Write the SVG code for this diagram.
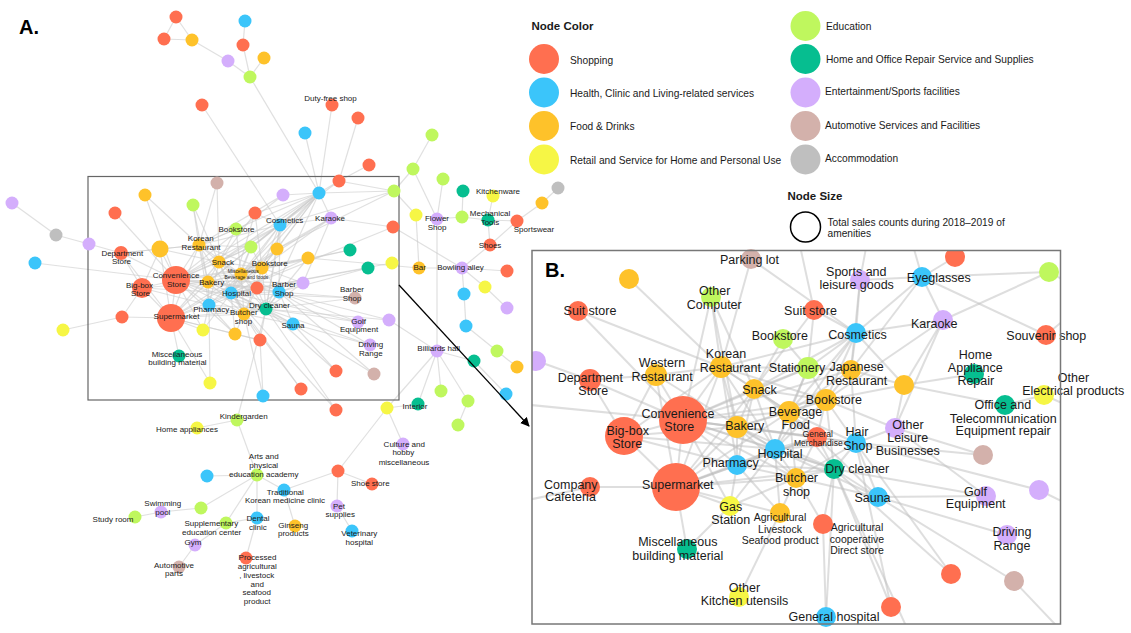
<svg xmlns="http://www.w3.org/2000/svg" width="1131" height="633" viewBox="0 0 1131 633">
<style>
.s{fill:#FF6F50}.h{fill:#3BC5FA}.f{fill:#FEC22A}.r{fill:#F6F645}.ed{fill:#BFF75E}.ho{fill:#06BE90}.en{fill:#D4AEFC}.au{fill:#D3B1AB}.ac{fill:#BFBFBF}
text{font-family:"Liberation Sans",Arial,sans-serif;fill:#1a1a1a}
.la{font-size:8px;text-anchor:middle}
.lx{font-size:4.9px;text-anchor:middle}
.lb{font-size:12.5px;text-anchor:middle}
.lm{font-size:10.5px;text-anchor:middle}
.lg{font-size:10.2px}
.hd{font-size:11.5px;font-weight:bold}
.big{font-size:20px;font-weight:bold;fill:#000}
#ea line{stroke:#cccccc;stroke-opacity:0.6;stroke-width:1.2}
#eb line{stroke:#bdbdbd;stroke-opacity:0.5;stroke-width:2}
.box{fill:none;stroke:#666;stroke-width:1.2}
</style>
<defs>
<marker id="arr" viewBox="0 0 10 10" refX="9" refY="5" markerWidth="7" markerHeight="7" orient="auto"><path d="M0,0L10,5L0,10z" fill="#000"/></marker>
<clipPath id="clipB"><rect x="532" y="250.5" width="528.5" height="373.5"/></clipPath>
</defs>
<rect width="1131" height="633" fill="#fff"/>
<text class="big" x="19" y="34">A.</text>

<g id="ea">
<line x1="176" y1="17" x2="164" y2="39"/><line x1="176" y1="17" x2="192" y2="40"/><line x1="164" y1="39" x2="192" y2="40"/><line x1="192" y1="40" x2="228" y2="61"/><line x1="228" y1="61" x2="250" y2="77"/><line x1="245" y1="21" x2="243" y2="45"/><line x1="243" y1="45" x2="250" y2="77"/><line x1="264" y1="58" x2="250" y2="77"/><line x1="250" y1="77" x2="319" y2="193"/><line x1="202" y1="105" x2="280" y2="225"/>
<line x1="332" y1="105" x2="319" y2="193"/><line x1="358" y1="118" x2="339" y2="181"/><line x1="305" y1="133" x2="319" y2="193"/><line x1="369" y1="165" x2="339" y2="181"/><line x1="339" y1="181" x2="319" y2="193"/><line x1="339" y1="181" x2="394" y2="191"/><line x1="339" y1="181" x2="280" y2="225"/>
<line x1="319" y1="193" x2="283" y2="195"/><line x1="319" y1="193" x2="394" y2="191"/><line x1="319" y1="193" x2="280" y2="225"/><line x1="319" y1="193" x2="331" y2="218"/><line x1="319" y1="193" x2="199" y2="245"/><line x1="319" y1="193" x2="219" y2="262"/><line x1="319" y1="193" x2="176" y2="280"/><line x1="319" y1="193" x2="251" y2="247"/><line x1="319" y1="193" x2="277" y2="249"/><line x1="319" y1="193" x2="262" y2="268"/><line x1="319" y1="193" x2="241" y2="274"/><line x1="319" y1="193" x2="208" y2="282"/><line x1="319" y1="193" x2="231" y2="293"/><line x1="319" y1="193" x2="266" y2="309"/><line x1="319" y1="193" x2="255" y2="213"/>
<line x1="283" y1="195" x2="199" y2="245"/><line x1="283" y1="195" x2="176" y2="280"/>
<line x1="432" y1="135" x2="413" y2="169"/><line x1="413" y1="169" x2="394" y2="191"/><line x1="413" y1="169" x2="437" y2="219"/><line x1="443" y1="179" x2="437" y2="219"/><line x1="394" y1="191" x2="416" y2="215"/><line x1="394" y1="191" x2="280" y2="225"/><line x1="394" y1="191" x2="277" y2="249"/>
<line x1="493" y1="196" x2="488" y2="220"/><line x1="463" y1="191" x2="462" y2="217"/><line x1="437" y1="219" x2="462" y2="217"/><line x1="462" y1="217" x2="488" y2="220"/><line x1="488" y1="220" x2="517" y2="221"/><line x1="517" y1="221" x2="542" y2="203"/><line x1="542" y1="203" x2="558" y2="188"/><line x1="488" y1="220" x2="490" y2="245"/><line x1="517" y1="221" x2="490" y2="245"/><line x1="490" y1="245" x2="462" y2="268"/>
<line x1="462" y1="268" x2="419" y2="268"/><line x1="462" y1="268" x2="507" y2="271"/><line x1="462" y1="268" x2="485" y2="287"/><line x1="485" y1="287" x2="507" y2="308"/><line x1="462" y1="268" x2="464" y2="294"/><line x1="464" y1="294" x2="466" y2="326"/><line x1="466" y1="326" x2="497" y2="351"/><line x1="497" y1="351" x2="517" y2="367"/><line x1="437" y1="219" x2="437" y2="351"/><line x1="393" y1="227" x2="462" y2="268"/><line x1="416" y1="215" x2="419" y2="268"/><line x1="419" y1="268" x2="308" y2="258"/>
<line x1="437" y1="351" x2="474" y2="361"/><line x1="437" y1="351" x2="441" y2="391"/><line x1="437" y1="351" x2="468" y2="401"/><line x1="437" y1="351" x2="387" y2="408"/><line x1="437" y1="351" x2="389" y2="320"/><line x1="474" y1="361" x2="506" y2="394"/><line x1="468" y1="401" x2="458" y2="425"/><line x1="418" y1="404" x2="437" y2="351"/>
<line x1="12" y1="203" x2="56" y2="235"/><line x1="56" y1="235" x2="89" y2="244"/><line x1="89" y1="244" x2="121" y2="253"/><line x1="35" y1="263" x2="176" y2="280"/><line x1="63" y1="330" x2="122" y2="317"/><line x1="122" y1="317" x2="171" y2="318"/>
<line x1="217" y1="183" x2="199" y2="245"/><line x1="217" y1="183" x2="219" y2="262"/><line x1="145" y1="195" x2="176" y2="280"/><line x1="145" y1="195" x2="199" y2="245"/><line x1="193" y1="205" x2="199" y2="245"/><line x1="193" y1="205" x2="219" y2="262"/><line x1="193" y1="205" x2="208" y2="282"/><line x1="115" y1="213" x2="176" y2="280"/><line x1="255" y1="213" x2="280" y2="225"/><line x1="255" y1="213" x2="219" y2="262"/><line x1="255" y1="213" x2="231" y2="293"/><line x1="255" y1="213" x2="262" y2="268"/>
<line x1="280" y1="225" x2="199" y2="245"/><line x1="280" y1="225" x2="219" y2="262"/><line x1="280" y1="225" x2="262" y2="268"/><line x1="280" y1="225" x2="241" y2="274"/><line x1="280" y1="225" x2="208" y2="282"/><line x1="280" y1="225" x2="176" y2="280"/><line x1="280" y1="225" x2="231" y2="293"/><line x1="280" y1="225" x2="266" y2="309"/><line x1="280" y1="225" x2="279" y2="292"/><line x1="280" y1="225" x2="331" y2="218"/><line x1="280" y1="225" x2="277" y2="249"/>
<line x1="331" y1="218" x2="262" y2="268"/><line x1="331" y1="218" x2="277" y2="249"/><line x1="331" y1="218" x2="241" y2="274"/><line x1="331" y1="218" x2="393" y2="227"/><line x1="331" y1="218" x2="303" y2="283"/>
<line x1="236" y1="229" x2="199" y2="245"/><line x1="236" y1="229" x2="219" y2="262"/><line x1="236" y1="229" x2="241" y2="274"/>
<line x1="199" y1="245" x2="160" y2="249"/><line x1="199" y1="245" x2="176" y2="280"/><line x1="199" y1="245" x2="219" y2="262"/><line x1="199" y1="245" x2="208" y2="282"/><line x1="199" y1="245" x2="241" y2="274"/><line x1="199" y1="245" x2="231" y2="293"/><line x1="199" y1="245" x2="209" y2="305"/><line x1="199" y1="245" x2="171" y2="318"/><line x1="199" y1="245" x2="251" y2="247"/><line x1="199" y1="245" x2="262" y2="268"/><line x1="199" y1="245" x2="121" y2="253"/>
<line x1="160" y1="249" x2="176" y2="280"/><line x1="160" y1="249" x2="121" y2="253"/><line x1="160" y1="249" x2="142" y2="288"/><line x1="160" y1="249" x2="219" y2="262"/><line x1="160" y1="249" x2="171" y2="318"/>
<line x1="251" y1="247" x2="219" y2="262"/><line x1="251" y1="247" x2="262" y2="268"/><line x1="251" y1="247" x2="241" y2="274"/><line x1="251" y1="247" x2="231" y2="293"/><line x1="251" y1="247" x2="176" y2="280"/>
<line x1="277" y1="249" x2="262" y2="268"/><line x1="277" y1="249" x2="241" y2="274"/><line x1="277" y1="249" x2="231" y2="293"/><line x1="277" y1="249" x2="266" y2="309"/>
<line x1="308" y1="258" x2="262" y2="268"/><line x1="308" y1="258" x2="231" y2="293"/><line x1="308" y1="258" x2="266" y2="309"/><line x1="308" y1="258" x2="176" y2="280"/><line x1="350" y1="250" x2="262" y2="268"/><line x1="350" y1="250" x2="241" y2="274"/><line x1="368" y1="268" x2="231" y2="293"/><line x1="368" y1="268" x2="279" y2="292"/>
<line x1="121" y1="253" x2="176" y2="280"/><line x1="121" y1="253" x2="142" y2="288"/><line x1="121" y1="253" x2="171" y2="318"/>
<line x1="219" y1="262" x2="176" y2="280"/><line x1="219" y1="262" x2="208" y2="282"/><line x1="219" y1="262" x2="241" y2="274"/><line x1="219" y1="262" x2="231" y2="293"/><line x1="219" y1="262" x2="209" y2="305"/><line x1="219" y1="262" x2="244" y2="314"/><line x1="219" y1="262" x2="266" y2="309"/><line x1="219" y1="262" x2="257" y2="288"/><line x1="219" y1="262" x2="262" y2="268"/><line x1="219" y1="262" x2="171" y2="318"/>
<line x1="262" y1="268" x2="241" y2="274"/><line x1="262" y1="268" x2="208" y2="282"/><line x1="262" y1="268" x2="231" y2="293"/><line x1="262" y1="268" x2="266" y2="309"/><line x1="262" y1="268" x2="244" y2="314"/><line x1="262" y1="268" x2="279" y2="292"/><line x1="262" y1="268" x2="257" y2="288"/><line x1="262" y1="268" x2="176" y2="280"/><line x1="262" y1="268" x2="171" y2="318"/><line x1="262" y1="268" x2="303" y2="283"/>
<line x1="241" y1="274" x2="176" y2="280"/><line x1="241" y1="274" x2="208" y2="282"/><line x1="241" y1="274" x2="231" y2="293"/><line x1="241" y1="274" x2="209" y2="305"/><line x1="241" y1="274" x2="266" y2="309"/><line x1="241" y1="274" x2="244" y2="314"/><line x1="241" y1="274" x2="257" y2="288"/><line x1="241" y1="274" x2="279" y2="292"/><line x1="241" y1="274" x2="171" y2="318"/>
<line x1="176" y1="280" x2="142" y2="288"/><line x1="176" y1="280" x2="208" y2="282"/><line x1="176" y1="280" x2="231" y2="293"/><line x1="176" y1="280" x2="209" y2="305"/><line x1="176" y1="280" x2="171" y2="318"/><line x1="176" y1="280" x2="244" y2="314"/><line x1="176" y1="280" x2="266" y2="309"/><line x1="176" y1="280" x2="257" y2="288"/><line x1="176" y1="280" x2="279" y2="292"/><line x1="176" y1="280" x2="293" y2="324"/><line x1="176" y1="280" x2="203" y2="330"/><line x1="176" y1="280" x2="235" y2="334"/><line x1="176" y1="280" x2="303" y2="283"/>
<line x1="142" y1="288" x2="171" y2="318"/><line x1="142" y1="288" x2="208" y2="282"/><line x1="142" y1="288" x2="231" y2="293"/><line x1="142" y1="288" x2="209" y2="305"/><line x1="142" y1="288" x2="122" y2="317"/>
<line x1="208" y1="282" x2="231" y2="293"/><line x1="208" y1="282" x2="209" y2="305"/><line x1="208" y1="282" x2="171" y2="318"/><line x1="208" y1="282" x2="244" y2="314"/><line x1="208" y1="282" x2="266" y2="309"/><line x1="208" y1="282" x2="257" y2="288"/>
<line x1="303" y1="283" x2="231" y2="293"/><line x1="303" y1="283" x2="279" y2="292"/><line x1="303" y1="283" x2="266" y2="309"/><line x1="257" y1="288" x2="231" y2="293"/><line x1="257" y1="288" x2="266" y2="309"/><line x1="257" y1="288" x2="244" y2="314"/><line x1="257" y1="288" x2="279" y2="292"/><line x1="257" y1="288" x2="209" y2="305"/>
<line x1="231" y1="293" x2="209" y2="305"/><line x1="231" y1="293" x2="171" y2="318"/><line x1="231" y1="293" x2="266" y2="309"/><line x1="231" y1="293" x2="244" y2="314"/><line x1="231" y1="293" x2="279" y2="292"/><line x1="231" y1="293" x2="293" y2="324"/><line x1="231" y1="293" x2="235" y2="334"/><line x1="231" y1="293" x2="203" y2="330"/>
<line x1="279" y1="292" x2="266" y2="309"/><line x1="279" y1="292" x2="244" y2="314"/><line x1="279" y1="292" x2="293" y2="324"/><line x1="279" y1="292" x2="355" y2="298"/><line x1="279" y1="292" x2="358" y2="322"/>
<line x1="209" y1="305" x2="171" y2="318"/><line x1="209" y1="305" x2="244" y2="314"/><line x1="209" y1="305" x2="266" y2="309"/><line x1="209" y1="305" x2="203" y2="330"/><line x1="209" y1="305" x2="235" y2="334"/>
<line x1="266" y1="309" x2="244" y2="314"/><line x1="266" y1="309" x2="171" y2="318"/><line x1="266" y1="309" x2="293" y2="324"/><line x1="266" y1="309" x2="260" y2="340"/><line x1="266" y1="309" x2="358" y2="322"/><line x1="266" y1="309" x2="370" y2="345"/>
<line x1="244" y1="314" x2="171" y2="318"/><line x1="244" y1="314" x2="235" y2="334"/><line x1="244" y1="314" x2="260" y2="340"/><line x1="244" y1="314" x2="293" y2="324"/>
<line x1="171" y1="318" x2="203" y2="330"/><line x1="171" y1="318" x2="235" y2="334"/><line x1="171" y1="318" x2="260" y2="340"/><line x1="171" y1="318" x2="179" y2="356"/><line x1="171" y1="318" x2="210" y2="383"/>
<line x1="293" y1="324" x2="336" y2="371"/><line x1="293" y1="324" x2="370" y2="345"/><line x1="293" y1="324" x2="374" y2="374"/><line x1="235" y1="334" x2="260" y2="340"/><line x1="210" y1="383" x2="209" y2="305"/><line x1="301" y1="389" x2="244" y2="314"/><line x1="301" y1="389" x2="231" y2="293"/><line x1="263" y1="396" x2="260" y2="340"/><line x1="263" y1="396" x2="244" y2="314"/><line x1="336" y1="371" x2="266" y2="309"/><line x1="374" y1="374" x2="279" y2="292"/><line x1="358" y1="322" x2="231" y2="293"/><line x1="370" y1="345" x2="279" y2="292"/><line x1="355" y1="298" x2="266" y2="309"/><line x1="355" y1="298" x2="231" y2="293"/><line x1="336" y1="410" x2="231" y2="293"/><line x1="336" y1="410" x2="266" y2="309"/><line x1="237" y1="420" x2="266" y2="309"/><line x1="389" y1="320" x2="266" y2="309"/><line x1="389" y1="320" x2="279" y2="292"/><line x1="392" y1="263" x2="231" y2="293"/><line x1="393" y1="227" x2="231" y2="293"/>
<line x1="237" y1="420" x2="257" y2="475"/><line x1="197" y1="428" x2="237" y2="420"/><line x1="257" y1="475" x2="207" y2="476"/><line x1="257" y1="475" x2="284" y2="490"/><line x1="257" y1="475" x2="201" y2="508"/><line x1="257" y1="475" x2="257" y2="518"/><line x1="257" y1="475" x2="226" y2="523"/><line x1="284" y1="490" x2="338" y2="471"/><line x1="284" y1="490" x2="295" y2="526"/><line x1="338" y1="471" x2="387" y2="408"/><line x1="338" y1="471" x2="337" y2="506"/><line x1="338" y1="471" x2="372" y2="484"/><line x1="337" y1="506" x2="352" y2="531"/><line x1="257" y1="518" x2="246" y2="558"/><line x1="257" y1="518" x2="226" y2="523"/><line x1="226" y1="523" x2="195" y2="545"/><line x1="195" y1="545" x2="179" y2="567"/><line x1="201" y1="508" x2="161" y2="512"/><line x1="161" y1="512" x2="135" y2="517"/><line x1="387" y1="408" x2="403" y2="444"/><line x1="387" y1="408" x2="418" y2="404"/>
</g>

<rect class="box" x="88" y="176.5" width="311" height="223.5"/>

<g id="nodesA">
<g id="a-t1"><circle class="s" cx="176" cy="17" r="6.5"/></g>
<g id="a-t2"><circle class="s" cx="164" cy="39" r="6.5"/></g>
<g id="a-t3"><circle class="f" cx="192" cy="40" r="6.5"/></g>
<g id="a-t4"><circle class="en" cx="228" cy="61" r="6.5"/></g>
<g id="a-t5"><circle class="ed" cx="250" cy="77" r="6.5"/></g>
<g id="a-t6"><circle class="h" cx="245" cy="21" r="6.5"/></g>
<g id="a-t7"><circle class="s" cx="243" cy="45" r="6.5"/></g>
<g id="a-t8"><circle class="f" cx="264" cy="58" r="6.5"/></g>
<g id="a-t9"><circle class="s" cx="202" cy="105" r="6.5"/></g>
<g id="a-duty"><circle class="s" cx="332" cy="105" r="6.5"/><text class="la" x="330.5" y="100.9">Duty-free shop</text></g>
<g id="a-t10"><circle class="s" cx="358" cy="118" r="6.5"/></g>
<g id="a-t11"><circle class="h" cx="305" cy="133" r="6.5"/></g>
<g id="a-t12"><circle class="s" cx="369" cy="165" r="6.5"/></g>
<g id="a-t13"><circle class="s" cx="339" cy="181" r="6.5"/></g>
<g id="a-hub"><circle class="h" cx="319" cy="193" r="6.5"/></g>
<g id="a-t14"><circle class="en" cx="283" cy="195" r="6.5"/></g>
<g id="a-g1"><circle class="ed" cx="432" cy="135" r="6.5"/></g>
<g id="a-g2"><circle class="ed" cx="413" cy="169" r="6.5"/></g>
<g id="a-g3"><circle class="ed" cx="443" cy="179" r="6.5"/></g>
<g id="a-g4"><circle class="ed" cx="394" cy="191" r="6.5"/></g>
<g id="a-y1"><circle class="r" cx="493" cy="196" r="6.5"/></g>
<g id="a-kitchen"><circle class="ho" cx="463" cy="191" r="6.5"/><text class="la" x="498" y="193.9">Kitchenware</text></g>
<g id="a-gray1"><circle class="ac" cx="558" cy="188" r="6.5"/></g>
<g id="a-o1"><circle class="f" cx="542" cy="203" r="6.5"/></g>
<g id="a-y2"><circle class="r" cx="416" cy="215" r="6.5"/></g>
<g id="a-flower"><circle class="en" cx="437" cy="219" r="6.5"/><text class="la" x="437" y="221.2">Flower</text><text class="la" x="437" y="229.6">Shop</text></g>
<g id="a-g5"><circle class="ed" cx="462" cy="217" r="6.5"/></g>
<g id="a-mech"><circle class="ho" cx="488" cy="220" r="6.5"/><text class="la" x="490" y="216.2">Mechanical</text><text class="la" x="490" y="224.6">Tools</text></g>
<g id="a-sports"><circle class="s" cx="517" cy="221" r="6.5"/><text class="la" x="534" y="232.2">Sportswear</text></g>
<g id="a-r1"><circle class="s" cx="393" cy="227" r="6.5"/></g>
<g id="a-shoes"><circle class="s" cx="490" cy="245" r="6.5"/><text class="la" x="490" y="247.6">Shoes</text></g>
<g id="a-y3"><circle class="r" cx="392" cy="263" r="6.5"/></g>
<g id="a-bar"><circle class="f" cx="419" cy="268" r="6.5"/><text class="la" x="419.7" y="270.2">Bar</text></g>
<g id="a-bowling"><circle class="en" cx="462" cy="268" r="6.5"/><text class="la" x="460.5" y="270.2">Bowling alley</text></g>
<g id="a-r2"><circle class="s" cx="507" cy="271" r="6.5"/></g>
<g id="a-y4"><circle class="r" cx="485" cy="287" r="6.5"/></g>
<g id="a-b1"><circle class="h" cx="464" cy="294" r="6.5"/></g>
<g id="a-p1"><circle class="en" cx="507" cy="308" r="6.5"/></g>
<g id="a-p2"><circle class="en" cx="389" cy="320" r="6.5"/></g>
<g id="a-b2"><circle class="h" cx="466" cy="326" r="6.5"/></g>
<g id="a-billiards"><circle class="en" cx="437" cy="351" r="6.5"/><text class="la" x="438.7" y="351.2">Billiards hall</text></g>
<g id="a-g6"><circle class="ed" cx="497" cy="351" r="6.5"/></g>
<g id="a-dg1"><circle class="ho" cx="474" cy="361" r="6.5"/></g>
<g id="a-o2"><circle class="f" cx="517" cy="367" r="6.5"/></g>
<g id="a-g7"><circle class="ed" cx="441" cy="391" r="6.5"/></g>
<g id="a-b3"><circle class="h" cx="506" cy="394" r="6.5"/></g>
<g id="a-g8"><circle class="ed" cx="468" cy="401" r="6.5"/></g>
<g id="a-y5"><circle class="r" cx="387" cy="408" r="6.5"/></g>
<g id="a-interior"><circle class="ho" cx="418" cy="404" r="6.5"/><text class="la" x="415" y="408.9">Interior</text></g>
<g id="a-g9"><circle class="ed" cx="458" cy="425" r="6.5"/></g>
<g id="a-culture"><circle class="en" cx="403" cy="444" r="6.5"/><text class="la" x="404.3" y="446.9">Culture and</text><text class="la" x="403.3" y="455.2">hobby</text><text class="la" x="404" y="464.6">miscellaneous</text></g>
<g id="a-p3"><circle class="en" cx="12" cy="203" r="6.5"/></g>
<g id="a-gray2"><circle class="ac" cx="56" cy="235" r="6.5"/></g>
<g id="a-p4"><circle class="en" cx="89" cy="244" r="6.5"/></g>
<g id="a-b4"><circle class="h" cx="35" cy="263" r="6.5"/></g>
<g id="a-y6"><circle class="r" cx="63" cy="330" r="6.5"/></g>
<g id="a-brown1"><circle class="au" cx="217" cy="183" r="6.5"/></g>
<g id="a-o3"><circle class="f" cx="145" cy="195" r="6.5"/></g>
<g id="a-g10"><circle class="ed" cx="193" cy="205" r="6.5"/></g>
<g id="a-r3"><circle class="s" cx="115" cy="213" r="6.5"/></g>
<g id="a-r4"><circle class="s" cx="255" cy="213" r="6.5"/></g>
<g id="a-cosm"><circle class="h" cx="280" cy="225" r="6.5"/><text class="la" x="284.7" y="222.9">Cosmetics</text></g>
<g id="a-kara"><circle class="en" cx="331" cy="218" r="6.5"/><text class="la" x="330" y="220.6">Karaoke</text></g>
<g id="a-bookG"><circle class="ed" cx="236" cy="229" r="6.5"/><text class="la" x="236.5" y="232.2">Bookstore</text></g>
<g id="a-o4"><circle class="f" cx="160" cy="249" r="8.5"/></g>
<g id="a-korean"><circle class="f" cx="199" cy="245" r="6.5"/><text class="la" x="200.7" y="240.9">Korean</text><text class="la" x="201" y="250.2">Restaurant</text></g>
<g id="a-g11"><circle class="ed" cx="251" cy="247" r="6.5"/></g>
<g id="a-o5"><circle class="f" cx="277" cy="249" r="6.5"/></g>
<g id="a-o6"><circle class="f" cx="308" cy="258" r="6.5"/></g>
<g id="a-dg2"><circle class="ho" cx="350" cy="250" r="6.5"/></g>
<g id="a-dg3"><circle class="ho" cx="368" cy="268" r="6.5"/></g>
<g id="a-dept"><circle class="s" cx="121" cy="253" r="7"/><text class="la" x="122.3" y="255.6">Department</text><text class="la" x="121.5" y="263.9">Store</text></g>
<g id="a-snack"><circle class="f" cx="219" cy="262" r="6.5"/><text class="la" x="222.8" y="264.9">Snack</text></g>
<g id="a-bookO"><circle class="f" cx="262" cy="268" r="6.5"/><text class="la" x="269.7" y="266.2">Bookstore</text></g>
<g id="a-misc"><circle class="f" cx="241" cy="274" r="6.5"/><text class="lx" x="243.3" y="272.5">Miscellaneous</text><text class="lx" x="246.3" y="279.1">Beverage and foods</text></g>
<g id="a-conv"><circle class="s" cx="176" cy="280" r="14"/><text class="la" x="176" y="278.2">Convenience</text><text class="la" x="176.5" y="287.2">Store</text></g>
<g id="a-bigbox"><circle class="s" cx="142" cy="288" r="10"/><text class="la" x="139.5" y="287.6">Big-box</text><text class="la" x="140.5" y="296.2">Store</text></g>
<g id="a-bakery"><circle class="f" cx="208" cy="282" r="6.5"/><text class="la" x="211.7" y="284.6">Bakery</text></g>
<g id="a-p5"><circle class="en" cx="303" cy="283" r="6.5"/></g>
<g id="a-r5"><circle class="s" cx="257" cy="288" r="6.5"/></g>
<g id="a-hosp"><circle class="h" cx="231" cy="293" r="6.5"/><text class="la" x="236.5" y="295.9">Hospital</text></g>
<g id="a-barberB"><circle class="h" cx="279" cy="292" r="6.5"/><text class="la" x="284" y="287.2">Barber</text><text class="la" x="284" y="295.9">Shop</text></g>
<g id="a-barberBr"><circle class="au" cx="355" cy="298" r="6.5"/><text class="la" x="352" y="291.6">Barber</text><text class="la" x="352" y="300.6">Shop</text></g>
<g id="a-pharm"><circle class="h" cx="209" cy="305" r="6.5"/><text class="la" x="211.3" y="311.6">Pharmacy</text></g>
<g id="a-dry"><circle class="ho" cx="266" cy="309" r="6.5"/><text class="la" x="269.5" y="308.2">Dry cleaner</text></g>
<g id="a-butcher"><circle class="f" cx="244" cy="314" r="6.5"/><text class="la" x="243.8" y="315.2">Butcher</text><text class="la" x="243.5" y="323.9">shop</text></g>
<g id="a-super"><circle class="s" cx="171" cy="318" r="14"/><text class="la" x="176.5" y="319.2">Supermarket</text></g>
<g id="a-r6"><circle class="s" cx="122" cy="317" r="6.5"/></g>
<g id="a-golf"><circle class="en" cx="358" cy="322" r="6.5"/><text class="la" x="358.7" y="323.6">Golf</text><text class="la" x="359" y="332.2">Equipment</text></g>
<g id="a-sauna"><circle class="h" cx="293" cy="324" r="6.5"/><text class="la" x="293" y="327.9">Sauna</text></g>
<g id="a-y7"><circle class="r" cx="203" cy="330" r="6.5"/></g>
<g id="a-o7"><circle class="f" cx="235" cy="334" r="6.5"/></g>
<g id="a-r7"><circle class="s" cx="260" cy="340" r="6.5"/></g>
<g id="a-driving"><circle class="en" cx="370" cy="345" r="6.5"/><text class="la" x="370.8" y="346.9">Driving</text><text class="la" x="370.8" y="355.6">Range</text></g>
<g id="a-miscbuild"><circle class="ho" cx="179" cy="356" r="6.5"/><text class="la" x="177" y="356.6">Miscellaneous</text><text class="la" x="177.5" y="365.2">building material</text></g>
<g id="a-r8"><circle class="s" cx="336" cy="371" r="6.5"/></g>
<g id="a-brown2"><circle class="au" cx="374" cy="374" r="6.5"/></g>
<g id="a-y8"><circle class="r" cx="210" cy="383" r="6.5"/></g>
<g id="a-r9"><circle class="s" cx="301" cy="389" r="6.5"/></g>
<g id="a-b5"><circle class="h" cx="263" cy="396" r="6.5"/></g>
<g id="a-r10"><circle class="s" cx="336" cy="410" r="6.5"/></g>
<g id="a-kinder"><circle class="ed" cx="237" cy="420" r="6.5"/><text class="la" x="243.7" y="419.2">Kindergarden</text></g>
<g id="a-homeapp"><circle class="r" cx="197" cy="428" r="6.5"/><text class="la" x="187" y="431.9">Home appliances</text></g>
<g id="a-b6"><circle class="h" cx="207" cy="476" r="6.5"/></g>
<g id="a-arts"><circle class="ed" cx="257" cy="475" r="6.5"/><text class="la" x="263.7" y="459.2">Arts and</text><text class="la" x="263.7" y="467.9">physical</text><text class="la" x="263.8" y="476.9">education academy</text></g>
<g id="a-r11"><circle class="s" cx="338" cy="471" r="6.5"/></g>
<g id="a-shoestore"><circle class="s" cx="372" cy="484" r="6.5"/><text class="la" x="370.3" y="485.6">Shoe store</text></g>
<g id="a-trad"><circle class="h" cx="284" cy="490" r="6.5"/><text class="la" x="285.3" y="494.6">Traditional</text><text class="la" x="285" y="503.2">Korean medicine clinic</text></g>
<g id="a-g12"><circle class="ed" cx="201" cy="508" r="6.5"/></g>
<g id="a-swim"><circle class="en" cx="161" cy="512" r="6.5"/><text class="la" x="162.8" y="506.2">Swimming</text><text class="la" x="162.8" y="514.6">pool</text></g>
<g id="a-study"><circle class="ed" cx="135" cy="517" r="6.5"/><text class="la" x="113" y="521.9">Study room</text></g>
<g id="a-pet"><circle class="en" cx="337" cy="506" r="6.5"/><text class="la" x="339" y="508.6">Pet</text><text class="la" x="340.3" y="517.2">supplies</text></g>
<g id="a-supp"><circle class="ed" cx="226" cy="523" r="6.5"/><text class="la" x="211.3" y="526.2">Supplementary</text><text class="la" x="211.7" y="534.9">education center</text></g>
<g id="a-dental"><circle class="h" cx="257" cy="518" r="6.5"/><text class="la" x="258" y="520.9">Dental</text><text class="la" x="257.8" y="529.6">clinic</text></g>
<g id="a-ginseng"><circle class="f" cx="295" cy="526" r="6.5"/><text class="la" x="293.2" y="527.9">Ginseng</text><text class="la" x="293.3" y="536.2">products</text></g>
<g id="a-vet"><circle class="h" cx="352" cy="531" r="6.5"/><text class="la" x="359.3" y="536.2">Veterinary</text><text class="la" x="359.3" y="545.2">hospital</text></g>
<g id="a-gym"><circle class="en" cx="195" cy="545" r="6.5"/><text class="la" x="193" y="544.6">Gym</text></g>
<g id="a-autoparts"><circle class="au" cx="179" cy="567" r="6.5"/><text class="la" x="174" y="567.9">Automotive</text><text class="la" x="174" y="576.2">parts</text></g>
<g id="a-processed"><circle class="s" cx="246" cy="558" r="6.5"/><text class="la" x="257.5" y="560.2">Processed</text><text class="la" x="257.3" y="568.9">agricultural</text><text class="la" x="256.7" y="577.9">, livestock</text><text class="la" x="257.3" y="586.6">and</text><text class="la" x="256.7" y="595.2">seafood</text><text class="la" x="257.2" y="603.9">product</text></g>
</g>

<line x1="399" y1="285" x2="529" y2="426" stroke="#000" stroke-width="1.3" marker-end="url(#arr)"/>

<g id="legend">
<text class="hd" x="531.5" y="30">Node Color</text>
<g id="lg-shop"><circle class="s" cx="544" cy="59" r="15"/><text class="lg" x="570" y="63.5">Shopping</text></g>
<g id="lg-health"><circle class="h" cx="544" cy="92.5" r="15"/><text class="lg" x="570" y="96.5">Health, Clinic and Living-related services</text></g>
<g id="lg-food"><circle class="f" cx="544" cy="126" r="15"/><text class="lg" x="570" y="129.8">Food &amp; Drinks</text></g>
<g id="lg-retail"><circle class="r" cx="544" cy="159.5" r="15"/><text class="lg" x="570" y="163.8">Retail and Service for Home and Personal Use</text></g>
<g id="lg-edu"><circle class="ed" cx="805.5" cy="26" r="15"/><text class="lg" x="826" y="30">Education</text></g>
<g id="lg-home"><circle class="ho" cx="805.5" cy="59" r="15"/><text class="lg" x="826" y="63">Home and Office Repair Service and Supplies</text></g>
<g id="lg-ent"><circle class="en" cx="805.5" cy="92.5" r="15"/><text class="lg" x="825" y="95.2">Entertainment/Sports facilities</text></g>
<g id="lg-auto"><circle class="au" cx="805.5" cy="126" r="15"/><text class="lg" x="825" y="128.5">Automotive Services and Facilities</text></g>
<g id="lg-acc"><circle class="ac" cx="805.5" cy="159.5" r="15"/><text class="lg" x="825" y="162">Accommodation</text></g>
<text class="hd" x="787.5" y="199.8">Node Size</text>
<g id="lg-size"><circle cx="805.5" cy="227" r="15" fill="none" stroke="#000" stroke-width="1.5"/><text class="lg" x="827.5" y="225.8">Total sales counts during 2018–2019 of</text><text class="lg" x="827.5" y="237.2">amenities</text></g>
</g>

<rect x="532" y="250.5" width="528.5" height="373.5" fill="#fff"/>
<g id="eb" clip-path="url(#clipB)">
<line x1="629" y1="279" x2="721" y2="367"/><line x1="578" y1="311" x2="721" y2="367"/><line x1="578" y1="311" x2="683" y2="420"/><line x1="751" y1="259" x2="856" y2="333"/><line x1="751" y1="259" x2="721" y2="367"/><line x1="711" y1="297" x2="721" y2="367"/><line x1="711" y1="297" x2="754" y2="389"/><line x1="711" y1="297" x2="737" y2="427"/><line x1="711" y1="297" x2="683" y2="420"/>
<line x1="537" y1="361" x2="590" y2="380"/><line x1="590" y1="380" x2="656" y2="375"/><line x1="656" y1="375" x2="721" y2="367"/><line x1="590" y1="380" x2="683" y2="420"/><line x1="590" y1="380" x2="624" y2="436"/><line x1="656" y1="375" x2="683" y2="420"/><line x1="656" y1="375" x2="624" y2="436"/><line x1="656" y1="375" x2="676" y2="487"/><line x1="656" y1="375" x2="775" y2="449"/>
<line x1="721" y1="367" x2="683" y2="420"/><line x1="721" y1="367" x2="754" y2="389"/><line x1="721" y1="367" x2="737" y2="427"/><line x1="721" y1="367" x2="789" y2="412"/><line x1="721" y1="367" x2="775" y2="449"/><line x1="721" y1="367" x2="737" y2="465"/><line x1="721" y1="367" x2="826" y2="400"/><line x1="721" y1="367" x2="808" y2="368"/><line x1="721" y1="367" x2="676" y2="487"/><line x1="721" y1="367" x2="856" y2="333"/><line x1="721" y1="367" x2="624" y2="436"/>
<line x1="683" y1="420" x2="624" y2="436"/><line x1="683" y1="420" x2="676" y2="487"/><line x1="683" y1="420" x2="754" y2="389"/><line x1="683" y1="420" x2="737" y2="427"/><line x1="683" y1="420" x2="789" y2="412"/><line x1="683" y1="420" x2="775" y2="449"/><line x1="683" y1="420" x2="737" y2="465"/><line x1="683" y1="420" x2="817" y2="437"/><line x1="683" y1="420" x2="826" y2="400"/><line x1="683" y1="420" x2="796" y2="478"/><line x1="683" y1="420" x2="834" y2="469"/><line x1="683" y1="420" x2="808" y2="368"/><line x1="683" y1="420" x2="856" y2="443"/><line x1="683" y1="420" x2="730" y2="506"/><line x1="683" y1="420" x2="851" y2="370"/>
<line x1="624" y1="436" x2="676" y2="487"/><line x1="624" y1="436" x2="737" y2="427"/><line x1="624" y1="436" x2="737" y2="465"/><line x1="624" y1="436" x2="775" y2="449"/>
<line x1="676" y1="487" x2="737" y2="465"/><line x1="676" y1="487" x2="775" y2="449"/><line x1="676" y1="487" x2="737" y2="427"/><line x1="676" y1="487" x2="796" y2="478"/><line x1="676" y1="487" x2="730" y2="506"/><line x1="676" y1="487" x2="834" y2="469"/><line x1="676" y1="487" x2="780" y2="513"/><line x1="676" y1="487" x2="590" y2="487"/><line x1="676" y1="487" x2="817" y2="437"/><line x1="676" y1="487" x2="687" y2="549"/><line x1="676" y1="487" x2="754" y2="389"/><line x1="676" y1="487" x2="789" y2="412"/>
<line x1="754" y1="389" x2="737" y2="427"/><line x1="754" y1="389" x2="789" y2="412"/><line x1="754" y1="389" x2="775" y2="449"/><line x1="754" y1="389" x2="826" y2="400"/><line x1="754" y1="389" x2="808" y2="368"/><line x1="754" y1="389" x2="737" y2="465"/><line x1="754" y1="389" x2="817" y2="437"/><line x1="754" y1="389" x2="856" y2="333"/><line x1="754" y1="389" x2="783" y2="339"/><line x1="754" y1="389" x2="814" y2="310"/>
<line x1="737" y1="427" x2="789" y2="412"/><line x1="737" y1="427" x2="775" y2="449"/><line x1="737" y1="427" x2="737" y2="465"/><line x1="737" y1="427" x2="817" y2="437"/><line x1="737" y1="427" x2="796" y2="478"/><line x1="737" y1="427" x2="834" y2="469"/><line x1="737" y1="427" x2="826" y2="400"/>
<line x1="789" y1="412" x2="826" y2="400"/><line x1="789" y1="412" x2="817" y2="437"/><line x1="789" y1="412" x2="775" y2="449"/><line x1="789" y1="412" x2="856" y2="443"/><line x1="789" y1="412" x2="834" y2="469"/><line x1="789" y1="412" x2="796" y2="478"/><line x1="789" y1="412" x2="808" y2="368"/><line x1="789" y1="412" x2="851" y2="370"/><line x1="789" y1="412" x2="856" y2="333"/>
<line x1="826" y1="400" x2="851" y2="370"/><line x1="826" y1="400" x2="817" y2="437"/><line x1="826" y1="400" x2="856" y2="443"/><line x1="826" y1="400" x2="834" y2="469"/><line x1="826" y1="400" x2="775" y2="449"/><line x1="826" y1="400" x2="808" y2="368"/><line x1="826" y1="400" x2="856" y2="333"/><line x1="826" y1="400" x2="904" y2="385"/><line x1="826" y1="400" x2="895" y2="428"/><line x1="826" y1="400" x2="943" y2="320"/>
<line x1="808" y1="368" x2="783" y2="339"/><line x1="808" y1="368" x2="856" y2="333"/><line x1="808" y1="368" x2="851" y2="370"/><line x1="808" y1="368" x2="814" y2="310"/><line x1="808" y1="368" x2="775" y2="449"/>
<line x1="851" y1="370" x2="856" y2="333"/><line x1="851" y1="370" x2="856" y2="443"/><line x1="851" y1="370" x2="904" y2="385"/><line x1="851" y1="370" x2="922" y2="277"/><line x1="851" y1="370" x2="860" y2="280"/>
<line x1="817" y1="437" x2="856" y2="443"/><line x1="817" y1="437" x2="775" y2="449"/><line x1="817" y1="437" x2="834" y2="469"/><line x1="817" y1="437" x2="796" y2="478"/><line x1="817" y1="437" x2="878" y2="497"/><line x1="817" y1="437" x2="737" y2="465"/>
<line x1="856" y1="443" x2="834" y2="469"/><line x1="856" y1="443" x2="775" y2="449"/><line x1="856" y1="443" x2="895" y2="428"/><line x1="856" y1="443" x2="878" y2="497"/><line x1="856" y1="443" x2="983" y2="455"/><line x1="856" y1="443" x2="1039" y2="490"/><line x1="856" y1="443" x2="796" y2="478"/>
<line x1="775" y1="449" x2="737" y2="465"/><line x1="775" y1="449" x2="834" y2="469"/><line x1="775" y1="449" x2="796" y2="478"/><line x1="775" y1="449" x2="730" y2="506"/><line x1="775" y1="449" x2="780" y2="513"/><line x1="775" y1="449" x2="878" y2="497"/>
<line x1="737" y1="465" x2="796" y2="478"/><line x1="737" y1="465" x2="730" y2="506"/><line x1="737" y1="465" x2="834" y2="469"/><line x1="737" y1="465" x2="780" y2="513"/>
<line x1="834" y1="469" x2="796" y2="478"/><line x1="834" y1="469" x2="878" y2="497"/><line x1="834" y1="469" x2="823" y2="524"/><line x1="834" y1="469" x2="986" y2="496"/><line x1="834" y1="469" x2="951" y2="574"/><line x1="834" y1="469" x2="826" y2="617"/>
<line x1="796" y1="478" x2="780" y2="513"/><line x1="796" y1="478" x2="730" y2="506"/><line x1="796" y1="478" x2="878" y2="497"/><line x1="796" y1="478" x2="823" y2="524"/>
<line x1="878" y1="497" x2="1007" y2="535"/><line x1="878" y1="497" x2="1014" y2="581"/><line x1="878" y1="497" x2="986" y2="496"/>
<line x1="730" y1="506" x2="687" y2="549"/><line x1="780" y1="513" x2="739" y2="597"/><line x1="823" y1="524" x2="826" y2="617"/>
<line x1="856" y1="333" x2="922" y2="277"/><line x1="856" y1="333" x2="860" y2="280"/><line x1="856" y1="333" x2="943" y2="320"/><line x1="856" y1="333" x2="814" y2="310"/><line x1="856" y1="333" x2="775" y2="449"/><line x1="856" y1="333" x2="904" y2="385"/>
<line x1="922" y1="277" x2="943" y2="320"/><line x1="922" y1="277" x2="955" y2="257"/><line x1="922" y1="277" x2="860" y2="280"/><line x1="922" y1="277" x2="1049" y2="272"/><line x1="922" y1="277" x2="1046" y2="335"/>
<line x1="943" y1="320" x2="904" y2="385"/><line x1="943" y1="320" x2="895" y2="428"/><line x1="1049" y1="272" x2="943" y2="320"/>
<line x1="904" y1="385" x2="974" y2="374"/><line x1="904" y1="385" x2="895" y2="428"/><line x1="904" y1="385" x2="1005" y2="405"/><line x1="1005" y1="405" x2="1044" y2="395"/>
<line x1="895" y1="428" x2="986" y2="496"/><line x1="895" y1="428" x2="983" y2="455"/>
<line x1="856" y1="443" x2="891" y2="607"/><line x1="834" y1="469" x2="891" y2="607"/><line x1="856" y1="443" x2="951" y2="574"/>
<line x1="683" y1="420" x2="480" y2="400"/><line x1="590" y1="487" x2="480" y2="510"/><line x1="860" y1="280" x2="875" y2="200"/><line x1="814" y1="310" x2="790" y2="200"/><line x1="922" y1="277" x2="900" y2="200"/><line x1="1049" y1="272" x2="1100" y2="300"/><line x1="1046" y1="335" x2="1100" y2="290"/><line x1="1044" y1="395" x2="1100" y2="420"/><line x1="1039" y1="490" x2="1100" y2="520"/><line x1="834" y1="469" x2="940" y2="700"/><line x1="1014" y1="581" x2="1070" y2="640"/>
</g>
<g id="nodesB">
<g id="b-parking"><circle class="au" cx="751" cy="259" r="10"/><text class="lb" x="749.5" y="264.2">Parking lot</text></g>
<g id="b-o1"><circle class="f" cx="629" cy="279" r="10"/></g>
<g id="b-othercomp"><circle class="ed" cx="711" cy="297" r="10"/><text class="lb" x="714.7" y="294.5">Other</text><text class="lb" x="714.3" y="308.8">Computer</text></g>
<g id="b-suit1"><circle class="s" cx="578" cy="311" r="10"/><text class="lb" x="590" y="315.2">Suit store</text></g>
<g id="b-suit2"><circle class="s" cx="814" cy="310" r="10"/><text class="lb" x="810.5" y="314.5">Suit store</text></g>
<g id="b-bookG"><circle class="ed" cx="783" cy="339" r="10"/><text class="lb" x="779.8" y="339.5">Bookstore</text></g>
<g id="b-p1"><circle class="en" cx="536" cy="361" r="10" clip-path="url(#clipB)"/></g>
<g id="b-korean"><circle class="f" cx="721" cy="367" r="11"/><text class="lb" x="726" y="358.2">Korean</text><text class="lb" x="730.3" y="371.8">Restaurant</text></g>
<g id="b-stationery"><circle class="ed" cx="808" cy="368" r="11"/><text class="lb" x="797" y="372.2">Stationery</text></g>
<g id="b-western"><circle class="f" cx="656" cy="375" r="11"/><text class="lb" x="662" y="367.2">Western</text><text class="lb" x="662.2" y="380.5">Restaurant</text></g>
<g id="b-dept"><circle class="s" cx="590" cy="380" r="11"/><text class="lb" x="590.3" y="382.2">Department</text><text class="lb" x="593.3" y="394.8">Store</text></g>
<g id="b-snack"><circle class="f" cx="754" cy="389" r="10"/><text class="lb" x="759.5" y="393.5">Snack</text></g>
<g id="b-japanese"><circle class="f" cx="851" cy="370" r="10"/><text class="lb" x="856.5" y="371.2">Japanese</text><text class="lb" x="856.7" y="384.5">Restaurant</text></g>
<g id="b-o2"><circle class="f" cx="904" cy="385" r="10"/></g>
<g id="b-conv"><circle class="s" cx="683" cy="420" r="24"/><text class="lb" x="678" y="417.8">Convenience</text><text class="lb" x="679.3" y="430.8">Store</text></g>
<g id="b-bigbox"><circle class="s" cx="624" cy="436" r="19"/><text class="lb" x="627.7" y="435.2">Big-box</text><text class="lb" x="627.2" y="447.8">Store</text></g>
<g id="b-bev"><circle class="f" cx="789" cy="412" r="11"/><text class="lb" x="795.5" y="415.8">Beverage</text><text class="lb" x="795.8" y="428.5">Food</text></g>
<g id="b-bookO"><circle class="f" cx="826" cy="400" r="11"/><text class="lb" x="833.8" y="403.8">Bookstore</text></g>
<g id="b-bakery"><circle class="f" cx="737" cy="427" r="11"/><text class="lb" x="744.7" y="429.8">Bakery</text></g>
<g id="b-genmerch"><circle class="s" cx="817" cy="437" r="10"/><text class="lb" x="817.7" y="437" style="font-size:8.5px">General</text><text class="lb" x="818.3" y="445.7" style="font-size:8.5px">Merchandise</text></g>
<g id="b-otherleis"><circle class="en" cx="895" cy="428" r="10"/><text class="lb" x="908" y="428.5">Other</text><text class="lb" x="907.7" y="442.2">Leisure</text><text class="lb" x="907.7" y="455.2">Businesses</text></g>
<g id="b-hair"><circle class="h" cx="856" cy="443" r="10"/><text class="lb" x="857" y="436.2">Hair</text><text class="lb" x="857.8" y="449.5">Shop</text></g>
<g id="b-hosp"><circle class="h" cx="775" cy="449" r="10"/><text class="lb" x="780" y="457.8">Hospital</text></g>
<g id="b-pharm"><circle class="h" cx="737" cy="465" r="10"/><text class="lb" x="730.7" y="467.2">Pharmacy</text></g>
<g id="b-dry"><circle class="ho" cx="834" cy="469" r="10"/><text class="lb" x="857.3" y="473.2">Dry cleaner</text></g>
<g id="b-butcher"><circle class="f" cx="796" cy="478" r="10"/><text class="lb" x="796.5" y="481.8">Butcher</text><text class="lb" x="796.5" y="495.5">shop</text></g>
<g id="b-sauna"><circle class="h" cx="878" cy="497" r="10"/><text class="lb" x="872.5" y="502.2">Sauna</text></g>
<g id="b-companycaf"><circle class="s" cx="590" cy="487" r="10"/><text class="lb" x="570.8" y="488.5">Company</text><text class="lb" x="570.5" y="501.2">Cafeteria</text></g>
<g id="b-super"><circle class="s" cx="676" cy="487" r="24"/><text class="lb" x="677.8" y="488.5">Supermarket</text></g>
<g id="b-gas"><circle class="r" cx="730" cy="506" r="10"/><text class="lb" x="730.7" y="510.8">Gas</text><text class="lb" x="730.8" y="523.5">Station</text></g>
<g id="b-agri"><circle class="f" cx="780" cy="513" r="10"/><text class="lm" x="780" y="521">Agricultural</text><text class="lm" x="780" y="532.7">Livestock</text><text class="lm" x="780.2" y="544.4">Seafood product</text></g>
<g id="b-agricoop"><circle class="s" cx="823" cy="524" r="10"/><text class="lm" x="857" y="531.1">Agricultural</text><text class="lm" x="857" y="542.8">cooperative</text><text class="lm" x="857" y="553.8">Direct store</text></g>
<g id="b-miscbuild"><circle class="ho" cx="687" cy="549" r="10"/><text class="lb" x="677.8" y="546.2">Miscellaneous</text><text class="lb" x="677.8" y="559.5">building material</text></g>
<g id="b-kitchen"><circle class="r" cx="739" cy="597" r="10"/><text class="lb" x="744.5" y="592.2">Other</text><text class="lb" x="744.5" y="605.2">Kitchen utensils</text></g>
<g id="b-genhosp"><circle class="h" cx="826" cy="617" r="10"/><text class="lb" x="834" y="620.5">General hospital</text></g>
<g id="b-r1"><circle class="s" cx="955" cy="257" r="10" clip-path="url(#clipB)"/></g>
<g id="b-g1"><circle class="ed" cx="1049" cy="272" r="10"/></g>
<g id="b-sportsgoods"><circle class="en" cx="860" cy="280" r="10"/><text class="lb" x="856.3" y="275.5">Sports and</text><text class="lb" x="856.7" y="288.8">leisure goods</text></g>
<g id="b-eyeglasses"><circle class="h" cx="922" cy="277" r="10"/><text class="lb" x="938.8" y="281.8">Eyeglasses</text></g>
<g id="b-karaoke"><circle class="en" cx="943" cy="320" r="10"/><text class="lb" x="934.3" y="328.2">Karaoke</text></g>
<g id="b-cosmetics"><circle class="h" cx="856" cy="333" r="10"/><text class="lb" x="857.5" y="338.5">Cosmetics</text></g>
<g id="b-souvenir"><circle class="s" cx="1046" cy="335" r="10"/><text class="lb" x="1046.3" y="339.5">Souvenir shop</text></g>
<g id="b-homeapprep"><circle class="ho" cx="974" cy="374" r="10"/><text class="lb" x="975.5" y="358.5">Home</text><text class="lb" x="975.3" y="372.2">Appliance</text><text class="lb" x="975.8" y="384.8">Repair</text></g>
<g id="b-elec"><circle class="r" cx="1044" cy="395" r="10"/><text class="lb" x="1073.5" y="382.2">Other</text><text class="lb" x="1073.2" y="395.2">Electrical products</text></g>
<g id="b-office"><circle class="ho" cx="1005" cy="405" r="10"/><text class="lb" x="1002.8" y="408.8">Office and</text><text class="lb" x="1003.2" y="422.5">Telecommunication</text><text class="lb" x="1003.2" y="435.2">Equipment repair</text></g>
<g id="b-brown1"><circle class="au" cx="983" cy="455" r="10"/></g>
<g id="b-p2"><circle class="en" cx="1039" cy="490" r="10"/></g>
<g id="b-golf"><circle class="en" cx="986" cy="496" r="10"/><text class="lb" x="975.5" y="495.8">Golf</text><text class="lb" x="975.7" y="507.8">Equipment</text></g>
<g id="b-driving"><circle class="en" cx="1007" cy="535" r="10"/><text class="lb" x="1012" y="536.2">Driving</text><text class="lb" x="1012" y="549.5">Range</text></g>
<g id="b-r2"><circle class="s" cx="951" cy="574" r="10"/></g>
<g id="b-brown2"><circle class="au" cx="1014" cy="581" r="10"/></g>
<g id="b-r3"><circle class="s" cx="891" cy="607" r="10"/></g>
</g>
<rect x="532" y="250.5" width="528.5" height="373.5" fill="none" stroke="#777" stroke-width="1.5"/>
<text class="big" x="545" y="277">B.</text>
</svg>
